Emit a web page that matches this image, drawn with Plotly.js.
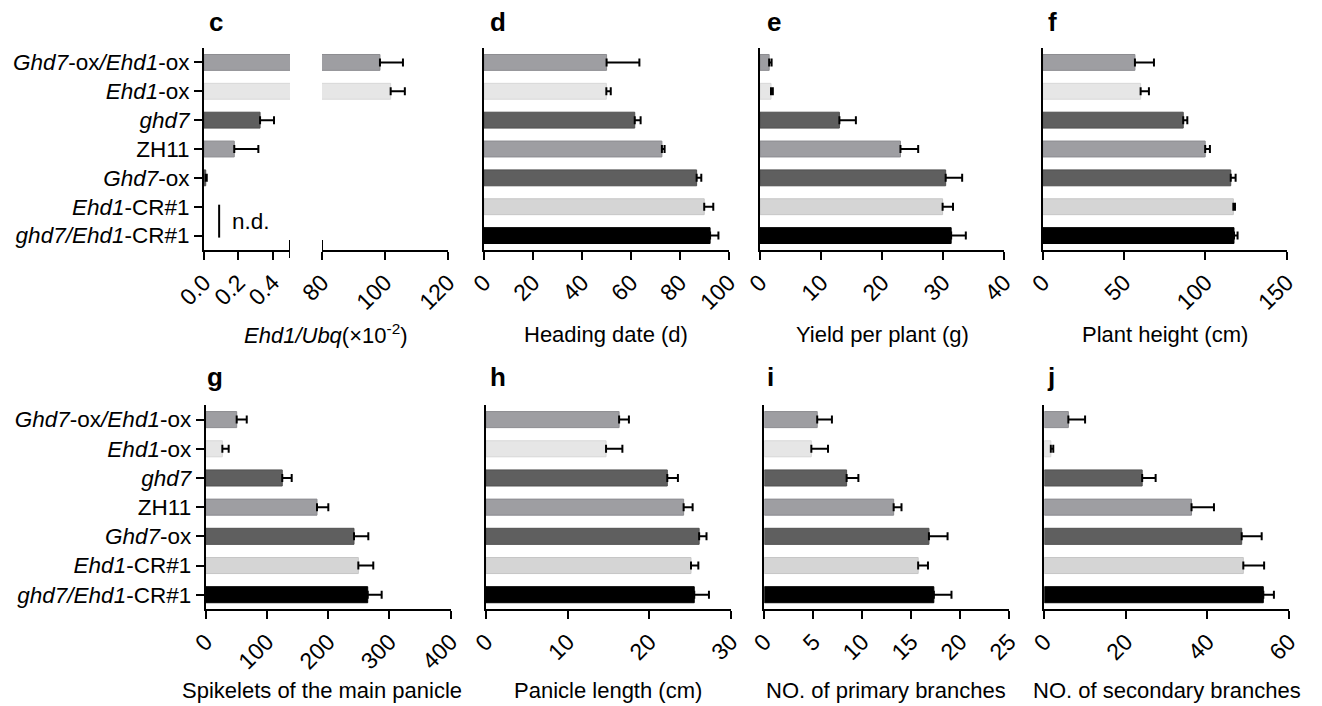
<!DOCTYPE html>
<html>
<head>
<meta charset="utf-8">
<script src="https://cdn.plot.ly/plotly-3.0.1.min.js"></script>
<style>
html,body{margin:0;padding:0;background:#fff;}
#chart{width:1322px;height:706px;}
</style>
</head>
<body>
<div id="chart"></div>
<script>
// ---------- data ----------
const categories = ["Ghd7-ox/Ehd1-ox","Ehd1-ox","ghd7","ZH11","Ghd7-ox","Ehd1-CR#1","ghd7/Ehd1-CR#1"];
const categoryLabels = [
  "<i>Ghd7</i>-ox<i>/Ehd1</i>-ox",
  "<i>Ehd1</i>-ox",
  "<i>ghd7</i>",
  "ZH11",
  "<i>Ghd7</i>-ox",
  "<i>Ehd1</i>-CR#1",
  "<i>ghd7/Ehd1</i>-CR#1"
];
const barColors  = ["#9e9ea2","#e6e6e6","#5f5f5f","#9e9ea2","#5f5f5f","#d5d5d5","#000000"];
const barOutline = ["#8c8c90","#d8d8d8","#505050","#8c8c90","#505050","#c6c6c6","#000000"];

// c: Ehd1/Ubq (x10^-2); null = n.d.
const ehd1Expr    = [98.4, 101.8, 0.326, 0.176, 0.010, null, null];
const ehd1ExprErr = [7.3, 4.5, 0.081, 0.140, 0.006, null, null];
// d: heading date (d)
const headingDate    = [50.1, 50.0, 61.6, 72.7, 86.9, 90.0, 92.4];
const headingDateErr = [13.4, 1.8, 2.4, 1.1, 1.9, 3.7, 3.4];
// e: yield per plant (g)
const yieldPerPlant    = [1.5, 1.8, 13.0, 23.0, 30.4, 29.9, 31.3];
const yieldPerPlantErr = [0.4, 0.3, 2.7, 2.9, 2.7, 1.7, 2.4];
// f: plant height (cm)
const plantHeight    = [56.7, 60.2, 86.4, 99.9, 115.6, 117.2, 117.6];
const plantHeightErr = [11.7, 5.1, 2.5, 2.9, 3.0, 1.0, 2.2];
// g: spikelets of the main panicle
const spikelets    = [50.6, 27.2, 125.0, 181.7, 242.1, 249.2, 264.5];
const spikeletsErr = [16.4, 10.3, 15.4, 18.5, 23.4, 24.4, 22.8];
// h: panicle length (cm)
const panicleLength    = [16.3, 14.7, 22.2, 24.2, 26.1, 25.1, 25.5];
const panicleLengthErr = [1.2, 2.0, 1.3, 1.1, 0.9, 0.9, 1.8];
// i: primary branches
const primaryBranches    = [5.4, 4.8, 8.4, 13.2, 16.8, 15.7, 17.3];
const primaryBranchesErr = [1.5, 1.7, 1.2, 0.8, 1.9, 1.0, 1.8];
// j: secondary branches
const secondaryBranches    = [5.9, 1.6, 24.0, 36.1, 48.4, 48.8, 53.7];
const secondaryBranchesErr = [4.1, 0.6, 3.3, 5.5, 4.9, 5.1, 2.6];

// ---------- layout helpers ----------
const FONT = "Liberation Sans, Arial, Helvetica, sans-serif";
const W = 1322, H = 706;
const px = v => v / W;
const py = v => 1 - v / H;

const TOP = [py(250), py(48)];
const BOT = [py(609.3), py(405)];

function bar(vals, errs, xa, ya) {
  return {
    type: "bar", orientation: "h",
    x: vals, y: categories,
    xaxis: xa, yaxis: ya,
    width: 0.55,
    marker: {color: barColors, line: {color: barOutline, width: 1}},
    error_x: {type: "data", symmetric: false, array: errs,
              arrayminus: errs.map(e => e == null ? null : 0),
              color: "#000", thickness: 2, width: 4},
    hoverinfo: "skip", showlegend: false
  };
}

function xAxis(domain, range, tickvals, ticktext, anchor) {
  return {
    domain: domain, range: range, anchor: anchor,
    showline: true, linewidth: 2, linecolor: "#000",
    ticks: "outside", ticklen: 8, tickwidth: 2, tickcolor: "#000",
    tickvals: tickvals, ticktext: ticktext, tickangle: -45,
    tickfont: {family: FONT, size: 23, color: "#000"},
    showgrid: false, zeroline: false, fixedrange: true
  };
}
function yAxis(domain, anchor, withLabels) {
  const a = {
    domain: domain, anchor: anchor, type: "category",
    categoryorder: "array", categoryarray: categories,
    range: [6.5, -0.5],
    showline: true, linewidth: 2, linecolor: "#000",
    showgrid: false, zeroline: false, fixedrange: true
  };
  if (withLabels) {
    a.ticks = "outside"; a.ticklen = 8; a.tickwidth = 2; a.tickcolor = "#000";
    a.tickvals = categories; a.ticktext = categoryLabels;
    a.tickfont = {family: FONT, size: 22.5, color: "#000"};
  } else {
    a.ticks = ""; a.showticklabels = false;
  }
  return a;
}

const data = [
  bar(ehd1Expr, ehd1ExprErr, "x", "y"),
  bar(ehd1Expr, ehd1ExprErr, "x2", "y2"),
  bar(headingDate, headingDateErr, "x3", "y3"),
  bar(yieldPerPlant, yieldPerPlantErr, "x4", "y4"),
  bar(plantHeight, plantHeightErr, "x5", "y5"),
  bar(spikelets, spikeletsErr, "x6", "y6"),
  bar(panicleLength, panicleLengthErr, "x7", "y7"),
  bar(primaryBranches, primaryBranchesErr, "x8", "y8"),
  bar(secondaryBranches, secondaryBranchesErr, "x9", "y9")
];

const y2 = yAxis(TOP, "x2", false);
y2.showline = false;

const layout = {
  width: W, height: H,
  margin: {l: 0, r: 0, t: 0, b: 0},
  paper_bgcolor: "#fff", plot_bgcolor: "rgba(0,0,0,0)",
  font: {family: FONT, color: "#000"},
  showlegend: false, hovermode: false,
  xaxis:  xAxis([px(204), px(290)], [0, 0.5], [0, 0.2, 0.4], ["0.0", "0.2", "0.4"], "y"),
  yaxis:  yAxis(TOP, "x", true),
  xaxis2: xAxis([px(322), px(448)], [80, 120], [80, 100, 120], ["80", "100", "120"], "y2"),
  yaxis2: y2,
  xaxis3: xAxis([px(484), px(728.7)], [0, 100], [0,20,40,60,80,100], ["0","20","40","60","80","100"], "y3"),
  yaxis3: yAxis(TOP, "x3", false),
  xaxis4: xAxis([px(760), px(1004.3)], [0, 40], [0,10,20,30,40], ["0","10","20","30","40"], "y4"),
  yaxis4: yAxis(TOP, "x4", false),
  xaxis5: xAxis([px(1042.7), px(1286.7)], [0, 150], [0,50,100,150], ["0","50","100","150"], "y5"),
  yaxis5: yAxis(TOP, "x5", false),
  xaxis6: xAxis([px(205.7), px(450.7)], [0, 400], [0,100,200,300,400], ["0","100","200","300","400"], "y6"),
  yaxis6: yAxis(BOT, "x6", true),
  xaxis7: xAxis([px(486), px(731)], [0, 30], [0,10,20,30], ["0","10","20","30"], "y7"),
  yaxis7: yAxis(BOT, "x7", false),
  xaxis8: xAxis([px(764.3), px(1009.3)], [0, 25], [0,5,10,15,20,25], ["0","5","10","15","20","25"], "y8"),
  yaxis8: yAxis(BOT, "x8", false),
  xaxis9: xAxis([px(1044.3), px(1289)], [0, 60], [0,20,40,60], ["0","20","40","60"], "y9"),
  yaxis9: yAxis(BOT, "x9", false),
  shapes: [
    // axis-break markers of panel c
    {type: "line", xref: "x", yref: "paper", x0: 0.5, x1: 0.5, y0: py(258), y1: py(240), line: {color: "#000", width: 2}},
    {type: "line", xref: "x2", yref: "paper", x0: 80, x1: 80, y0: py(258), y1: py(240), line: {color: "#000", width: 2}},
    // n.d. bracket
    {type: "line", xref: "x", yref: "y", x0: 0.088, x1: 0.088, y0: 4.93, y1: 6.07, line: {color: "#000", width: 2}}
  ],
  annotations: []
};

const ann = layout.annotations;
ann.push({xref: "x", yref: "y", x: 0.15, y: 5.5, xanchor: "left", yanchor: "middle",
          text: "n.d.", showarrow: false, font: {family: FONT, size: 22.5, color: "#000"}});

// panel letters
const letters = [["c",207,22],["d",488,22],["e",765,22],["f",1046,22],
                 ["g",205,377],["h",488,377],["i",765,377],["j",1045,377]];
letters.forEach(([t, x, y]) => ann.push({
  xref: "paper", yref: "paper", x: px(x), y: py(y), xanchor: "left", yanchor: "middle",
  text: "<b>" + t + "</b>", showarrow: false, font: {family: FONT, size: 26, color: "#000"}
}));

// axis titles
const titles = [
  ["<i>Ehd1/Ubq</i>(×10<sup>-2</sup>)", 326, 334],
  ["Heading date (d)", 606, 334],
  ["Yield per plant (g)", 882, 334],
  ["Plant height (cm)", 1165, 334],
  ["Spikelets of the main panicle", 321.5, 690],
  ["Panicle length (cm)", 608, 690],
  ["NO. of primary branches", 886, 690],
  ["NO. of secondary branches", 1166.7, 690]
];
titles.forEach(([t, x, y]) => ann.push({
  xref: "paper", yref: "paper", x: px(x), y: py(y), xanchor: "center", yanchor: "middle",
  text: t, showarrow: false, font: {family: FONT, size: 22, color: "#000"}
}));

Plotly.newPlot("chart", data, layout, {staticPlot: true, displayModeBar: false});
</script>
</body>
</html>
